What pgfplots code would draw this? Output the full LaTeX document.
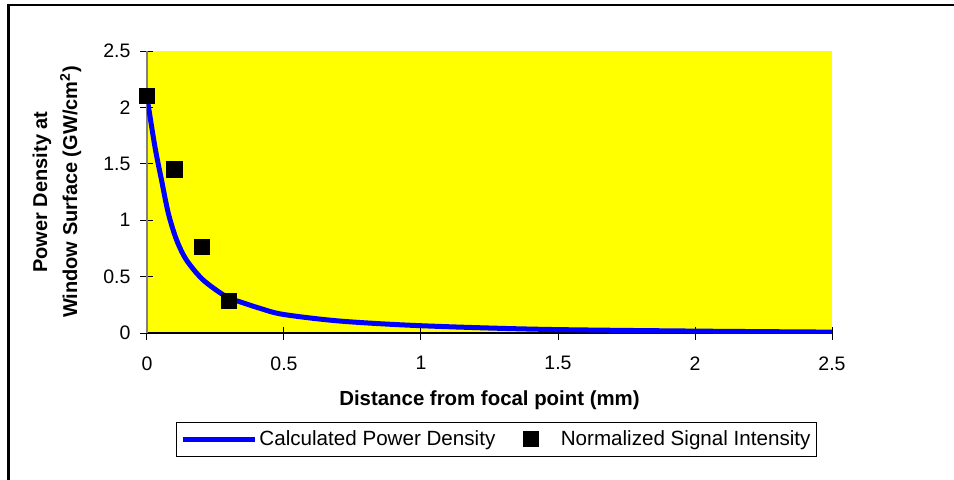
\documentclass[border=0pt]{standalone}
\usepackage{fontspec}
\setmainfont{Liberation Sans}
\setsansfont{Liberation Sans}
\usepackage{pgfplots}
\pgfplotsset{compat=1.18}
\definecolor{plotyellow}{RGB}{255,255,0}
\definecolor{plotblue}{RGB}{0,0,255}
\begin{document}
\begin{tikzpicture}
\useasboundingbox (-73.5pt,-73pt) rectangle (403.5pt,166.5pt);
\draw[line width=1.4pt] (-69.3pt,-90pt) -- (-69.3pt,164pt) -- (420pt,164pt);
\begin{axis}[
  scale only axis,
  width=342.5pt, height=141pt,
  xmin=0, xmax=2.5, ymin=0, ymax=2.5,
  xtick={0,0.5,1,1.5,2,2.5},
  ytick={0,0.5,1,1.5,2,2.5},
  xticklabels={0,0.5,1,1.5,2,2.5},
  yticklabels={0,0.5,1,1.5,2,2.5},
  axis x line*=bottom, axis y line*=left,
  axis line style={-},
  x axis line style={black, line width=0.6pt},
  y axis line style={gray, line width=0.6pt},
  tick align=center,
  major tick length=6.5pt,
  tick style={black, line width=0.5pt},
  axis background/.style={fill=plotyellow},
  tick label style={font=\fontsize{9.75}{11}\selectfont},
  xticklabel style={yshift=-5pt},
  yticklabel style={xshift=-1.5pt},
  /pgf/number format/assume math mode=true,
  xlabel={\textbf{Distance from focal point (mm)}},
  xlabel style={font=\fontsize{10.2}{12}\selectfont, at={(axis description cs:0.5,0)}, anchor=center, yshift=-33.5pt},
  ylabel={\textbf{Power Density at}\\\textbf{Window Surface (GW/cm$^{\mathbf{2}}$)}},
  ylabel style={font=\fontsize{10}{15}\selectfont, align=center, at={(axis description cs:-0.1314,0.5)}, anchor=center},
  legend columns=2,
  legend style={
    at={(0.5102,-0.376)}, anchor=center,
    font=\fontsize{10.3}{12}\selectfont,
    draw=black, line width=0.5pt, fill=white,
    inner xsep=2.25pt, inner ysep=3.25pt,
    nodes={inner sep=0.75pt, text depth=0.15em},
    /tikz/every even column/.append style={column sep=13pt},
  },
]
\addplot[plotblue, line width=2.5pt, smooth, no marks,
  legend image code/.code={\draw[plotblue, line width=2.5pt] (0pt,0pt) -- (36pt,0pt);}]
  coordinates {
  (0,2.09) (0.029,1.65) (0.053,1.356) (0.078,1.06) (0.108,0.825) (0.144,0.647)
  (0.205,0.47) (0.29,0.32) (0.339,0.277) (0.412,0.219) (0.497,0.165)
  (0.704,0.106) (0.996,0.065) (1.434,0.033) (2.0,0.017) (2.5,0.008)
  };
\addlegendentry{Calculated Power Density}
\addplot[only marks, mark=square*, mark size=3.8pt, black,
  legend image code/.code={\path[draw=none, fill=none] (0pt,0pt) -- (18pt,0pt); \fill[black] (0pt,-3.75pt) rectangle (7.5pt,3.75pt);}]
  coordinates {(0,2.10) (0.1,1.45) (0.2,0.765) (0.3,0.286)};
\addlegendentry{Normalized Signal Intensity}
\end{axis}
\end{tikzpicture}
\end{document}
